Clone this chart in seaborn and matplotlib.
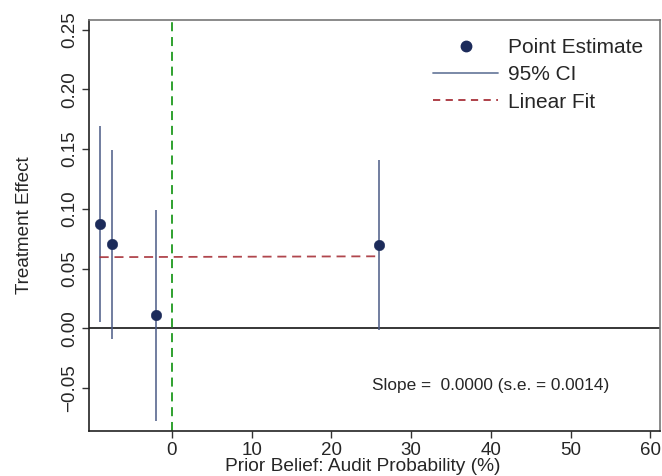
import numpy as np
import pandas as pd
import matplotlib
matplotlib.use("Agg")
import matplotlib.pyplot as plt
import seaborn as sns
from matplotlib.lines import Line2D

# Binned prior beliefs and estimated treatment effects
prior_belief = [-9.06, -7.48, -1.97, 25.94]
estimate = [0.0874, 0.0704, 0.0111, 0.0698]
ci_low = [0.0055, -0.0090, -0.0774, -0.0014]
ci_high = [0.1690, 0.1495, 0.0992, 0.1410]

# Linear fit of the estimates on prior belief
fit_slope = 0.00002
fit_intercept = 0.0597
fit_se = 0.0014

x_ticks = [0, 10, 20, 30, 40, 50, 60]
y_ticks = [-0.05, 0.00, 0.05, 0.10, 0.15, 0.20, 0.25]

navy = "#1c2b5a"
ci_color = "#4a5a85"
fit_color = "#a8323a"
zero_color = "#1f9a1f"

sns.set_theme(style="white")
plt.rcParams["font.family"] = ["Liberation Sans", "DejaVu Sans"]

fig = plt.figure(figsize=(6.62, 4.76), dpi=100)
ax = fig.add_axes([0.1344, 0.0945, 0.8626, 0.8635])

df = pd.DataFrame({"prior": prior_belief, "effect": estimate,
                   "lo": ci_low, "hi": ci_high})

# Reference lines
ax.axhline(0, color="black", lw=1.1, zorder=1)
ax.axvline(0, color=zero_color, lw=1.3, ls=(0, (5, 3.2)), zorder=1)

# Confidence intervals
ax.vlines(df["prior"], df["lo"], df["hi"], color=ci_color, lw=1.1, zorder=2)

# Fitted line across the range of the bins
fx = np.array([min(prior_belief), max(prior_belief)])
fit_df = pd.DataFrame({"prior": fx, "fit": fit_intercept + fit_slope * fx})
sns.lineplot(data=fit_df, x="prior", y="fit", ax=ax, color=fit_color,
             lw=1.3, alpha=0.9, zorder=2)
ax.lines[-1].set_linestyle((0, (5, 3.2)))

# Point estimates
sns.scatterplot(data=df, x="prior", y="effect", ax=ax, color=navy, s=58,
                edgecolor=navy, linewidth=0.3, zorder=3)

ax.set_xlim(-10.4, 61.2)
ax.set_ylim(-0.086, 0.258)
ax.set_xticks(x_ticks)
ax.set_xticklabels([str(t) for t in x_ticks])
ax.set_yticks(y_ticks)
ax.set_yticklabels([f"{t:.2f}".replace("-", "\u2212") for t in y_ticks],
                   rotation=90, va="center")
ax.tick_params(axis="both", which="both", direction="out", length=5,
               width=1, color="#333333", labelsize=13.5, pad=3,
               bottom=True, left=True)

ax.set_xlabel("Prior Belief: Audit Probability (%)", fontsize=13.8)
ax.xaxis.set_label_coords(0.479, -0.065)
ax.set_ylabel("Treatment Effect", fontsize=13.6, labelpad=20)

for side in ["left", "bottom"]:
    ax.spines[side].set_color("#222222")
    ax.spines[side].set_linewidth(1.2)
for side in ["top", "right"]:
    ax.spines[side].set_color("#777777")
    ax.spines[side].set_linewidth(1.2)

ax.text(25.06, -0.0475,
        f"Slope =  {fit_slope:.4f} (s.e. = {fit_se:.4f})",
        fontsize=12.4, va="center", ha="left")

handles = [
    Line2D([], [], ls="none", marker="o", markersize=7.5, color=navy),
    Line2D([], [], color="#7080a0", lw=1.3),
    Line2D([], [], color=fit_color, lw=1.3, ls=(0, (4, 3))),
]
ax.legend(handles, ["Point Estimate", "95% CI", "Linear Fit"],
          loc="upper left", bbox_to_anchor=(0.5775, 0.992), frameon=False,
          fontsize=15, handlelength=3.1, handletextpad=0.5,
          labelspacing=0.4, borderpad=0.2)

fig.savefig("out.png", dpi=100)
